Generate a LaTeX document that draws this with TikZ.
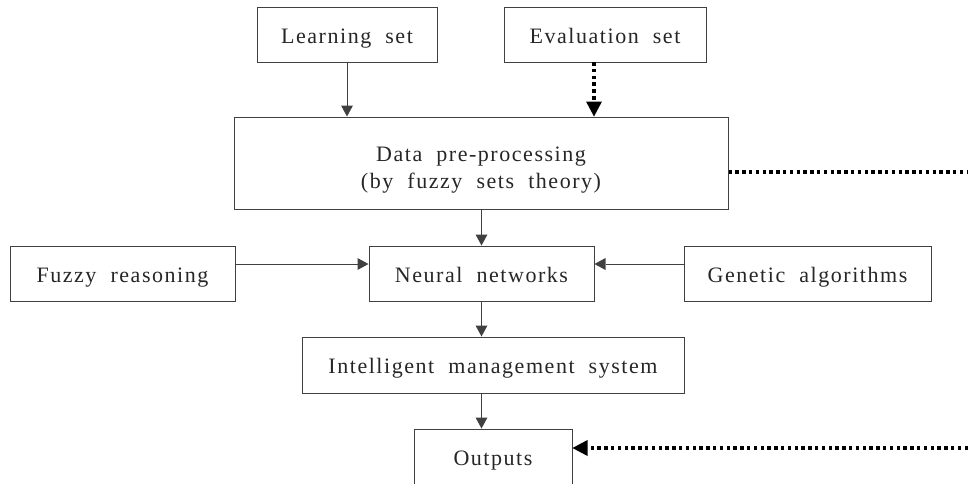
\documentclass[tikz,border=0pt]{standalone}
\usepackage{fontspec}
\setmainfont{Liberation Serif}[LetterSpace=7,WordSpace=2]
\usetikzlibrary{arrows.meta,calc}
\begin{document}
\begin{tikzpicture}[x=1pt,y=-1pt,
  box/.style={draw=black!75,line width=1pt,inner sep=0pt,align=center,
    text=black!85,font=\fontsize{22}{27}\selectfont},
  one/.style={box,text height=20pt,text depth=3pt},
  conn/.style={draw=black!75,line width=1pt,-{Triangle[length=11pt,width=12pt,line width=0pt]}},
  dotline/.style={draw=black,line width=3.6pt,dash pattern=on 3.5pt off 3.3pt},
  dotarrow/.style={dotline,-{Triangle[length=15pt,width=16pt,line width=0pt]}}
]
\useasboundingbox (0,0) rectangle (968,483);
\node[one,minimum width=180pt,minimum height=55pt] (learn) at (347,34.5) {Learning set};
\node[one,minimum width=202pt,minimum height=55pt] (eval) at (605,34.5) {Evaluation set};
\node[box,minimum width=494pt,minimum height=92pt] (data) at (481,163) {\raisebox{-11.5pt}[0pt][0pt]{\begin{tabular}{@{}c@{}}Data pre-processing\\(by fuzzy sets theory)\end{tabular}}};
\node[one,minimum width=225pt,minimum height=55pt] (fz) at (122.5,273.5) {Fuzzy reasoning};
\node[one,minimum width=225pt,minimum height=55pt] (nn) at (481.5,273.5) {Neural networks};
\node[one,minimum width=247pt,minimum height=55pt] (ga) at (807.5,273.5) {Genetic algorithms};
\node[one,minimum width=382pt,minimum height=56pt] (ims) at (493,365) {Intelligent management system};
\node[one,minimum width=158pt,minimum height=56pt] (out) at (493,457) {Outputs};
\coordinate (evs) at (594,62);
\coordinate (rtop) at (968,172);
\coordinate (rbot) at (968,448);
% connectors
\draw[conn] (learn.south) -- (learn.south |- data.north);
\draw[dotarrow] (evs) -- (evs |- data.north);
\draw[conn] (nn.north |- data.south) -- (nn.north);
\draw[conn] ([yshift=9.5pt]fz.east) -- ([yshift=9.5pt]fz.east -| nn.west);
\draw[conn] ([yshift=9.5pt]ga.west) -- ([yshift=9.5pt]ga.west -| nn.east);
\draw[conn] (nn.south) -- (nn.south |- ims.north);
\draw[conn] (nn.south |- ims.south) -- (nn.south |- out.north);
\draw[dotline] (data.east |- rtop) -- (rtop);
\draw[dotarrow] (rbot) -- (out.east |- rbot);
\end{tikzpicture}
\end{document}
